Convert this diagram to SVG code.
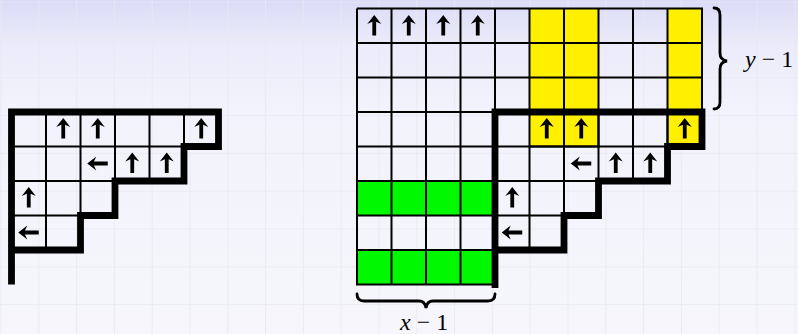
<svg xmlns="http://www.w3.org/2000/svg" xmlns:xlink="http://www.w3.org/1999/xlink" width="798" height="334" viewBox="0 0 798 334">
<defs>
<linearGradient id="bg" x1="0" y1="0" x2="0" y2="334" gradientUnits="userSpaceOnUse">
<stop offset="0" stop-color="#dbdbf7"/>
<stop offset="0.13" stop-color="#ebebfa"/>
<stop offset="0.3" stop-color="#f2f2fc"/>
<stop offset="1" stop-color="#f6f6fc"/>
</linearGradient>
<pattern id="bggrid" patternUnits="userSpaceOnUse" x="0.5" y="1.7" width="37.8" height="37.8">
<path d="M0,0 H37.8 M0,0 V37.8" fill="none" stroke="#e9e9f2" stroke-width="1.6"/>
</pattern>
<path id="up" d="M0,-10.5 L7,-1.5 L1.9,-3.8 L1.9,10 L-1.9,10 L-1.9,-3.8 L-7,-1.5 Z" fill="#000"/>
</defs>
<style>
.thin path, path.thin { fill: none; stroke: #000; stroke-width: 2; }
.thick { fill: none; stroke: #000; stroke-width: 6.8; stroke-linejoin: miter; stroke-linecap: square; }
.yel { fill: #fff000; }
.grn { fill: #00f800; }
.brace { fill: none; stroke: #000; stroke-width: 2.8; stroke-linecap: round; }
.lbl { font-family: "Liberation Serif", "Times New Roman", serif; font-size: 24px; fill: #000; }
</style>
<rect width="798" height="334" fill="url(#bg)"/>
<rect width="798" height="334" fill="url(#bggrid)"/>

<g id="left-tableau">
<g class="thin">
<path d="M11.5,146.5 H207 M11.5,181 H115 M11.5,215.5 H80.5 M46,112 V250 M80.5,112 V215.5 M115,112 V181 M149.5,112 V181 M184,112 V146.5"/>
</g>
<path class="thick" d="M11.5,281 V112 H218.5 V146.5 H184 V181 H115 V215.5 H80.5 V250 H11.5"/>
<use xlink:href="#up" transform="translate(63.25,128.5)"/>
<use xlink:href="#up" transform="translate(97.75,128.5)"/>
<use xlink:href="#up" transform="translate(201.25,128.5)"/>
<use xlink:href="#up" transform="translate(97.75,163.5) rotate(-90)"/>
<use xlink:href="#up" transform="translate(132.25,163)"/>
<use xlink:href="#up" transform="translate(166.75,163)"/>
<use xlink:href="#up" transform="translate(28.75,197.5)"/>
<use xlink:href="#up" transform="translate(28.75,232.5) rotate(-90)"/>
</g>

<g id="right-tableau">
<rect class="yel" x="529.5" y="8.5" width="69" height="138"/>
<rect class="yel" x="667.5" y="8.5" width="34.5" height="138"/>
<rect class="grn" x="357" y="181" width="138" height="34.5"/>
<rect class="grn" x="357" y="250" width="138" height="34.5"/>
<g class="thin">
<path d="M357,8.5 H702 V112 M357,43 H702 M357,77.5 H702 M357,8.5 V284.5 H495 M391.5,8.5 V284.5 M426,8.5 V284.5 M460.5,8.5 V284.5 M495,8.5 V112 M529.5,8.5 V112 M564,8.5 V112 M598.5,8.5 V112 M633,8.5 V112 M667.5,8.5 V112 M357,112 H495 M357,146.5 H495 M357,181 H495 M357,215.5 H495 M357,250 H495"/>
<path d="M529.5,146.5 H598.5 V112 M564,112 V146.5 M667.5,112 V146.5 H702"/>
</g>
<g class="thin">
<path d="M495,146.5 H690.5 M495,181 H598.5 M495,215.5 H564 M529.5,112 V250 M564,112 V215.5 M598.5,112 V181 M633,112 V181 M667.5,112 V146.5"/>
</g>
<path class="thick" d="M495,284.5 V112 H702 V146.5 H667.5 V181 H598.5 V215.5 H564 V250 H495"/>
<use xlink:href="#up" transform="translate(374.25,25.5)"/>
<use xlink:href="#up" transform="translate(408.75,25.5)"/>
<use xlink:href="#up" transform="translate(443.25,25.5)"/>
<use xlink:href="#up" transform="translate(477.75,25.5)"/>
<use xlink:href="#up" transform="translate(546.75,128.5)"/>
<use xlink:href="#up" transform="translate(581.25,128.5)"/>
<use xlink:href="#up" transform="translate(684.75,128.5)"/>
<use xlink:href="#up" transform="translate(581.25,163.5) rotate(-90)"/>
<use xlink:href="#up" transform="translate(615.75,163)"/>
<use xlink:href="#up" transform="translate(650.25,163)"/>
<use xlink:href="#up" transform="translate(512.25,197.5)"/>
<use xlink:href="#up" transform="translate(512.25,232.5) rotate(-90)"/>
</g>

<g id="brace-y">
<path class="brace" d="M714,8 Q720,8 720,15 L720,53 Q720,60 727,61 Q720,62 720,69 L720,102 Q720,109 714,109"/>
<text class="lbl" x="745" y="67"><tspan font-style="italic">y</tspan> − 1</text>
</g>
<g id="brace-x">
<path class="brace" d="M357,294 Q357,301 364,301 L419,301 Q425,301 426,308 Q427,301 433,301 L488,301 Q495,301 495,294"/>
<text class="lbl" x="400" y="330"><tspan font-style="italic">x</tspan> − 1</text>
</g>
</svg>
